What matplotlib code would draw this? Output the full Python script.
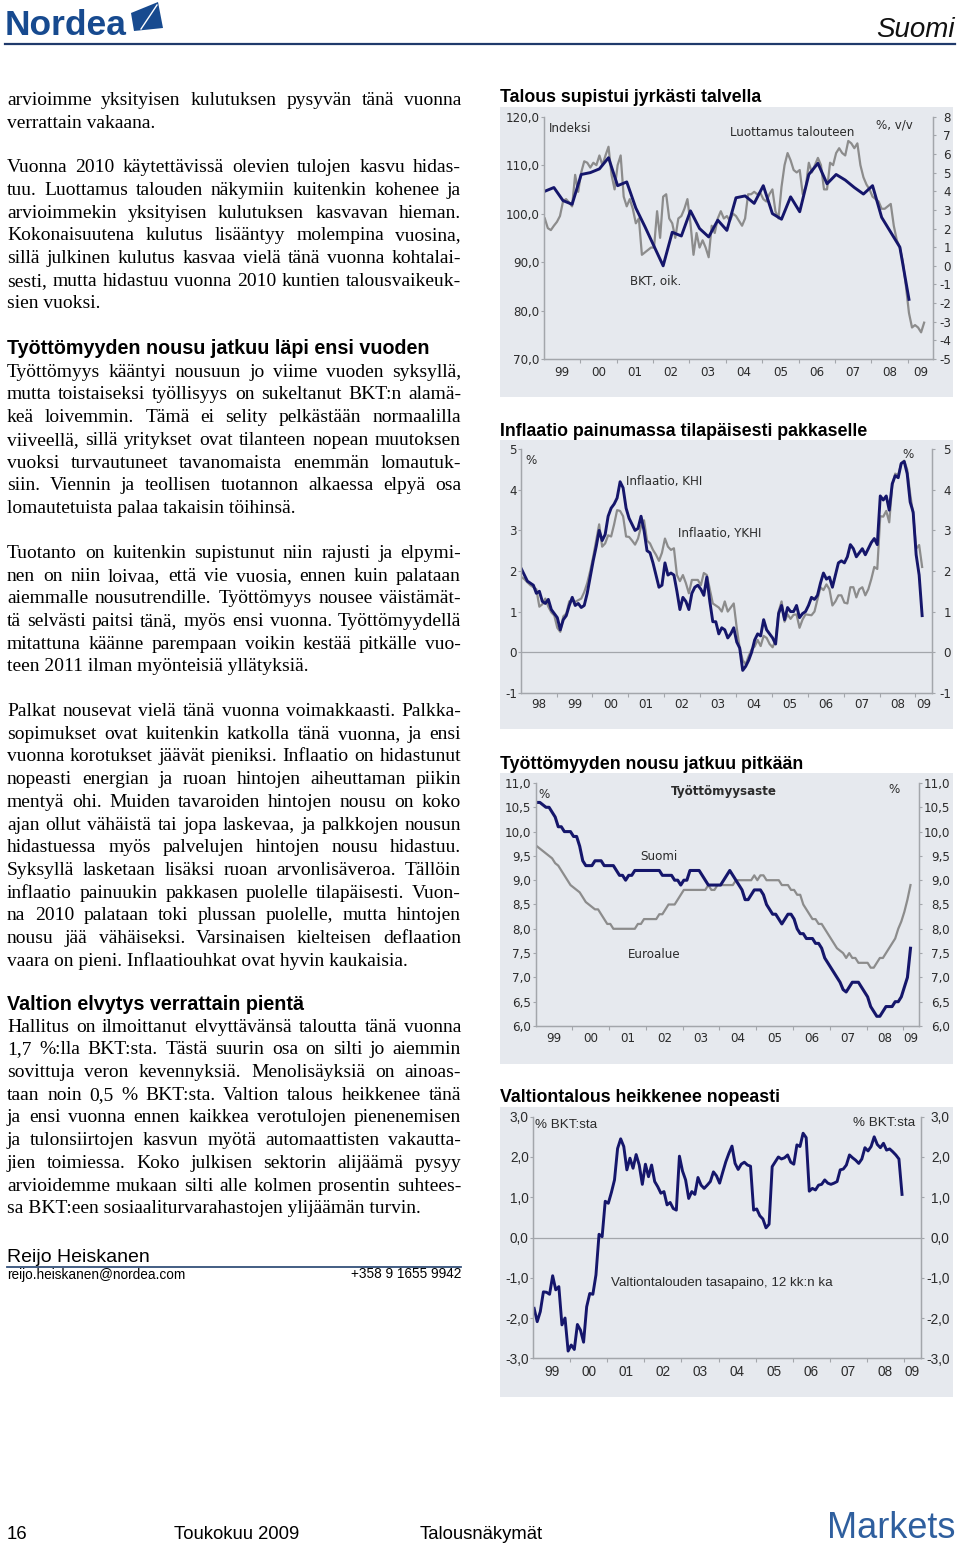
import numpy as np
import matplotlib
matplotlib.use("Agg")
import matplotlib.pyplot as plt
from matplotlib import font_manager as fm
from matplotlib.patches import Rectangle, Polygon
from matplotlib.lines import Line2D
from matplotlib.ticker import FuncFormatter, FixedLocator
from matplotlib.transforms import blended_transform_factory

# ---------------- data ----------------
# Chart 1: GDP y/y (quarterly, right axis) and economic confidence index (monthly, left axis)
bkt_q = [4.0, 4.2, 3.5, 3.3, 4.9, 5.0, 5.2, 5.8, 4.3, 4.5, 3.1, 2.1, 1.05, 0.0, 1.8, 1.6,
         2.95, 2.0, 1.55, 2.45, 1.9, 3.65, 3.75, 3.35, 4.3, 2.8, 2.5, 3.7, 2.9, 4.9, 5.5, 4.4,
         4.9, 4.6, 4.2, 3.85, 4.3, 2.6, 1.8, 1.0, -1.8]
luottamus = [99.0, 97.0, 96.6, 97.5, 98.3, 99.5, 102.5, 103.0, 102.3, 101.5, 108.0, 104.5,
             108.5, 110.8, 110.5, 109.5, 110.5, 110.0, 112.0, 110.0, 112.0, 113.8, 108.0, 105.0,
             110.0, 112.0, 103.5, 101.5, 103.0, 101.0, 98.0, 99.0, 91.5, 92.0, 92.5, 93.0,
             93.0, 100.5, 95.0, 103.5, 104.0, 99.0, 98.0, 95.0, 99.0, 99.5, 101.0, 103.0,
             98.0, 91.5, 96.0, 93.0, 94.5, 93.0, 91.0, 97.5, 96.0, 99.0, 100.5, 99.0,
             99.5, 98.5, 100.0, 99.5, 98.5, 97.5, 99.0, 104.0, 104.0, 104.5, 104.0, 104.3,
             103.0, 102.5, 104.0, 105.0, 100.5, 99.0, 105.5, 110.0, 112.5, 111.0, 109.0, 108.5,
             109.0, 104.0, 105.5, 110.5, 108.5, 110.0, 111.5, 110.0, 105.0, 105.0, 110.5, 110.0,
             112.5, 113.5, 112.5, 112.0, 115.0, 114.5, 113.5, 114.5, 110.0, 107.5, 106.0, 105.0,
             103.5, 103.0, 102.5, 101.0, 101.0, 101.5, 102.0, 97.5, 94.5, 93.0, 90.0, 85.0,
             79.5, 76.5, 77.0, 76.5, 75.5, 77.5]

# Chart 2: inflation (monthly from Jan 1998)
khi = [2.05, 1.9, 1.75, 1.7, 1.65, 1.45, 1.5, 1.25, 1.2, 1.3, 1.05, 0.95,
       0.85, 0.55, 0.8, 0.9, 1.15, 1.35, 1.15, 1.2, 1.1, 1.15, 1.45, 1.85,
       2.25, 2.6, 3.0, 2.75, 2.9, 3.35, 3.55, 3.65, 3.8, 4.2, 4.05, 3.55,
       3.3, 3.15, 3.0, 3.05, 3.35, 3.0, 2.5, 2.45, 2.2, 1.9, 1.6, 1.65,
       2.2, 1.9, 1.95, 1.9, 1.5, 1.05, 1.35, 1.25, 1.05, 1.45, 1.6, 1.65,
       1.55, 1.4, 1.85, 1.25, 0.75, 0.75, 0.45, 0.6, 0.55, 0.35, 0.45, 0.6,
       0.25, 0.1, -0.45, -0.35, -0.2, 0.0, 0.3, 0.45, 0.4, 0.8, 0.55, 0.45,
       0.35, 0.2, 0.95, 1.15, 0.8, 1.1, 1.0, 1.0, 1.15, 0.85, 0.95, 1.0,
       1.15, 1.35, 1.3, 1.4, 1.7, 1.95, 1.8, 1.85, 1.6, 1.9, 2.2, 2.25,
       2.2, 2.35, 2.65, 2.55, 2.35, 2.45, 2.55, 2.4, 2.55, 2.7, 2.8, 2.65,
       3.85, 3.75, 3.85, 3.5, 4.15, 4.35, 4.3, 4.65, 4.7, 4.4, 3.7, 3.45,
       2.4, 1.9, 0.9]
ykhi = [1.85, 1.8, 1.72, 1.65, 1.6, 1.55, 1.12, 1.18, 1.32, 1.12, 0.98, 0.9,
        0.6, 0.5, 0.88, 0.95, 1.25, 1.28, 1.24, 1.28, 1.32, 1.48, 1.7, 2.0,
        2.35, 2.75, 3.15, 2.6, 2.68, 2.88, 2.85, 3.15, 3.5, 3.48, 3.35, 2.85,
        2.84, 2.75, 2.65, 2.8, 3.1, 3.25, 2.75, 2.68, 2.52, 2.4, 2.25, 2.45,
        2.8, 2.6, 2.52, 2.56, 1.9, 1.75, 1.9, 1.7, 1.45, 1.78, 1.78, 1.78,
        1.65, 1.95, 1.9, 1.55, 1.2, 1.15, 1.1, 1.0, 1.25, 1.0, 1.1, 1.2,
        0.6, 0.1, -0.2, -0.3, -0.1, 0.07, 0.14, 0.3, 0.15, 0.4, 0.35, 0.2,
        0.12, 0.3, 1.0, 1.25, 0.75, 0.93, 0.82, 0.92, 0.93, 0.6, 0.8, 0.93,
        0.92, 0.91, 1.0, 1.3, 1.6, 1.53, 1.67, 1.55, 1.15, 1.25, 1.4, 1.4,
        1.22, 1.2, 1.6, 1.6, 1.35, 1.55, 1.6, 1.4, 1.55, 1.8, 2.1, 2.05,
        3.35, 3.34, 3.48, 3.2, 4.1, 4.4, 4.36, 4.65, 4.72, 4.5, 3.9, 3.4,
        2.55, 2.64, 2.1]

# Chart 3: unemployment rate (monthly from Jan 1999)
suomi = [10.6, 10.6, 10.55, 10.5, 10.5, 10.4, 10.3, 10.1, 10.1, 10.0, 10.0, 10.0,
         9.9, 9.9, 9.7, 9.4, 9.3, 9.3, 9.3, 9.4, 9.4, 9.4, 9.3, 9.3,
         9.3, 9.3, 9.2, 9.1, 9.1, 9.0, 9.1, 9.1, 9.2, 9.2, 9.2, 9.2,
         9.2, 9.2, 9.2, 9.2, 9.2, 9.1, 9.1, 9.1, 9.1, 9.0, 9.0, 8.9,
         9.0, 9.0, 9.2, 9.2, 9.2, 9.2, 9.1, 9.0, 8.9, 8.9, 8.9, 8.9,
         8.9, 9.0, 9.1, 9.2, 9.1, 9.0, 8.9, 8.8, 8.6, 8.6, 8.7, 8.8,
         8.8, 8.8, 8.7, 8.5, 8.4, 8.3, 8.3, 8.2, 8.1, 8.2, 8.3, 8.3,
         8.2, 8.0, 7.9, 7.9, 7.8, 7.8, 7.8, 7.7, 7.7, 7.6, 7.4, 7.3,
         7.2, 7.1, 7.0, 6.9, 6.75, 6.7, 6.8, 6.9, 6.9, 6.9, 6.8, 6.7,
         6.6, 6.4, 6.3, 6.2, 6.2, 6.3, 6.4, 6.4, 6.4, 6.5, 6.5, 6.6,
         6.8, 7.0, 7.6]
euroalue = [9.7, 9.65, 9.6, 9.55, 9.5, 9.45, 9.35, 9.3, 9.2, 9.1, 9.0, 8.9,
            8.85, 8.8, 8.75, 8.65, 8.55, 8.5, 8.45, 8.4, 8.4, 8.3, 8.2, 8.1,
            8.1, 8.0, 8.0, 8.0, 8.0, 8.0, 8.0, 8.0, 8.0, 8.1, 8.1, 8.2,
            8.2, 8.2, 8.2, 8.2, 8.3, 8.3, 8.4, 8.5, 8.5, 8.5, 8.6, 8.7,
            8.8, 8.8, 8.8, 8.8, 8.8, 8.8, 8.8, 8.8, 8.9, 8.8, 8.8, 8.9,
            8.9, 8.9, 8.9, 8.9, 8.9, 9.0, 9.0, 9.0, 9.0, 9.0, 9.0, 9.1,
            9.0, 9.1, 9.1, 9.0, 9.0, 9.0, 9.0, 9.0, 8.9, 8.9, 8.9, 8.8,
            8.8, 8.7, 8.7, 8.5, 8.4, 8.3, 8.2, 8.2, 8.1, 8.1, 8.0, 7.9,
            7.8, 7.7, 7.6, 7.55, 7.5, 7.4, 7.5, 7.4, 7.4, 7.3, 7.3, 7.3,
            7.3, 7.2, 7.2, 7.3, 7.4, 7.4, 7.5, 7.6, 7.7, 7.8, 8.0, 8.15,
            8.35, 8.6, 8.9]

# Chart 4: central government balance, % of GDP, 12m avg (monthly from Jan 1999)
valtio = [-1.76, -2.09, -1.84, -1.35, -1.36, -1.41, -0.95, -1.3, -1.22, -2.17, -2.0, -2.82,
          -2.67, -2.78, -2.16, -2.3, -2.6, -1.72, -1.39, -1.41, -0.93, 0.08, 0.02, 0.9,
          0.85, 1.12, 1.43, 2.21, 2.45, 2.26, 1.68, 1.97, 1.72, 2.06, 1.8, 1.32,
          1.82, 1.51, 1.8, 1.39, 1.26, 1.1, 1.14, 0.81, 0.87, 0.72, 0.68, 2.02,
          1.65, 1.43, 0.97, 1.14, 1.07, 1.49, 1.3, 1.22, 1.3, 1.39, 1.63, 1.53,
          1.35, 1.62, 1.88, 2.09, 2.27, 1.84, 1.69, 1.82, 1.87, 1.8, 1.77, 0.68,
          0.71, 0.54, 0.46, 0.24, 0.33, 1.76, 1.88, 2.0, 1.95, 1.98, 2.05, 1.87,
          1.82, 2.3, 2.26, 2.59, 2.48, 1.15, 1.22, 1.18, 1.3, 1.32, 1.43, 1.35,
          1.32, 1.35, 1.39, 1.68, 1.7, 1.8, 2.05, 1.98, 1.92, 1.84, 1.95, 2.23,
          2.15, 2.26, 2.5, 2.31, 2.23, 2.34, 2.17, 2.2, 2.13, 2.05, 1.95, 1.07]

year_labels_98 = ["98", "99", "00", "01", "02", "03", "04", "05", "06", "07", "08", "09"]
year_labels_99 = year_labels_98[1:]

# ---------------- figure setup ----------------
W, H = 960, 1545
fig = plt.figure(figsize=(W / 100, H / 100), dpi=100)
fig.patch.set_facecolor("white")
renderer = fig.canvas.get_renderer()


def has_font(name):
    try:
        fm.findfont(fm.FontProperties(family=name), fallback_to_default=False)
        return True
    except Exception:
        return False


SERIF = "Liberation Serif"
SANS = "Liberation Sans"
NARROW = "Liberation Sans Narrow" if has_font("Liberation Sans Narrow") else SANS
VERD = "DejaVu Sans"

NAVY = "#15166b"
GRAY = "#8c8c8c"
PANEL = "#e6e9ee"
AXC = "#a3a6ab"
TXT = "#2b2b2b"


def FX(x):
    return x / W


def FY(y):
    return 1 - y / H


def ftext(x, y, s, **kw):
    kw.setdefault("va", "baseline")
    return fig.text(FX(x), FY(y), s, **kw)


# ---------------- header ----------------
ftext(5, 35, "Nordea", fontsize=25.5, family=SANS, weight="bold", color="#174a8f")
fig.add_artist(Polygon([(FX(131), FY(13)), (FX(158), FY(2)), (FX(163), FY(28)), (FX(134), FY(31))],
                       closed=True, transform=fig.transFigure, facecolor="#174a8f", edgecolor="none"))
fig.add_artist(Line2D([FX(141), FX(157)], [FY(29), FY(5)], transform=fig.transFigure,
                      color="white", lw=1.0))
ftext(955, 37, "Suomi", fontsize=20, family=SANS, style="italic", color="#111111", ha="right")
fig.add_artist(Line2D([FX(5), FX(955)], [FY(43.5), FY(43.5)], transform=fig.transFigure,
                      color="#1f3a6b", lw=1.6))

# ---------------- left column text ----------------
BODY_FS = 14.0
X0, X1 = 7, 461


def body_line(s, y, justify=True):
    if not justify:
        ftext(X0, y, s, fontsize=BODY_FS, family=SERIF, color="black")
        return
    words = s.split()
    ts = [ftext(0, y, w, fontsize=BODY_FS, family=SERIF, color="black") for w in words]
    widths = [t.get_window_extent(renderer).width for t in ts]
    gap = (X1 - X0 - sum(widths)) / max(len(words) - 1, 1)
    x = X0
    for t, w in zip(ts, widths):
        t.set_x(FX(x))
        x += w + gap


def paragraph(lines, y0, step=22.7):
    for i, s in enumerate(lines):
        body_line(s, y0 + i * step, justify=(i < len(lines) - 1))


def heading(s, y):
    ftext(X0, y, s, fontsize=14.2, family=SANS, weight="bold", color="black")


paragraph(["arvioimme yksityisen kulutuksen pysyvän tänä vuonna",
           "verrattain vakaana."], 105)
paragraph(["Vuonna 2010 käytettävissä olevien tulojen kasvu hidas-",
           "tuu. Luottamus talouden näkymiin kuitenkin kohenee ja",
           "arvioimmekin yksityisen kulutuksen kasvavan hieman.",
           "Kokonaisuutena kulutus lisääntyy molempina vuosina,",
           "sillä julkinen kulutus kasvaa vielä tänä vuonna kohtalai-",
           "sesti, mutta hidastuu vuonna 2010 kuntien talousvaikeuk-",
           "sien vuoksi."], 172.3)
heading("Työttömyyden nousu jatkuu läpi ensi vuoden", 354)
paragraph(["Työttömyys kääntyi nousuun jo viime vuoden syksyllä,",
           "mutta toistaiseksi työllisyys on sukeltanut BKT:n alamä-",
           "keä loivemmin. Tämä ei selity pelkästään normaalilla",
           "viiveellä, sillä yritykset ovat tilanteen nopean muutoksen",
           "vuoksi turvautuneet tavanomaista enemmän lomautuk-",
           "siin. Viennin ja teollisen tuotannon alkaessa elpyä osa",
           "lomautetuista palaa takaisin töihinsä."], 376.7)
paragraph(["Tuotanto on kuitenkin supistunut niin rajusti ja elpymi-",
           "nen on niin loivaa, että vie vuosia, ennen kuin palataan",
           "aiemmalle nousutrendille. Työttömyys nousee väistämät-",
           "tä selvästi paitsi tänä, myös ensi vuonna. Työttömyydellä",
           "mitattuna käänne parempaan voikin kestää pitkälle vuo-",
           "teen 2011 ilman myönteisiä yllätyksiä."], 557.9)
paragraph(["Palkat nousevat vielä tänä vuonna voimakkaasti. Palkka-",
           "sopimukset ovat kuitenkin katkolla tänä vuonna, ja ensi",
           "vuonna korotukset jäävät pieniksi. Inflaatio on hidastunut",
           "nopeasti energian ja ruoan hintojen aiheuttaman piikin",
           "mentyä ohi. Muiden tavaroiden hintojen nousu on koko",
           "ajan ollut vähäistä tai jopa laskevaa, ja palkkojen nousun",
           "hidastuessa myös palvelujen hintojen nousu hidastuu.",
           "Syksyllä lasketaan lisäksi ruoan arvonlisäveroa. Tällöin",
           "inflaatio painuukin pakkasen puolelle tilapäisesti. Vuon-",
           "na 2010 palataan toki plussan puolelle, mutta hintojen",
           "nousu jää vähäiseksi. Varsinaisen kielteisen deflaation",
           "vaara on pieni. Inflaatiouhkat ovat hyvin kaukaisia."], 716)
heading("Valtion elvytys verrattain pientä", 1010)
paragraph(["Hallitus on ilmoittanut elvyttävänsä taloutta tänä vuonna",
           "1,7 %:lla BKT:sta. Tästä suurin osa on silti jo aiemmin",
           "sovittuja veron kevennyksiä. Menolisäyksiä on ainoas-",
           "taan noin 0,5 % BKT:sta. Valtion talous heikkenee tänä",
           "ja ensi vuonna ennen kaikkea verotulojen pienenemisen",
           "ja tulonsiirtojen kasvun myötä automaattisten vakautta-",
           "jien toimiessa. Koko julkisen sektorin alijäämä pysyy",
           "arvioidemme mukaan silti alle kolmen prosentin suhtees-",
           "sa BKT:een sosiaaliturvarahastojen ylijäämän turvin."], 1031.7)

ftext(7, 1261.5, "Reijo Heiskanen", fontsize=14.0, family=SANS, color="black")
fig.add_artist(Line2D([FX(7), FX(461)], [FY(1266.8), FY(1266.8)], transform=fig.transFigure,
                      color="#34507a", lw=1.3))
ftext(7, 1278.5, "reijo.heiskanen@nordea.com", fontsize=9.8, family=SANS, color="black")
ftext(461, 1278.5, "+358 9 1655 9942", fontsize=9.8, family=SANS, color="black", ha="right")

# ---------------- footer ----------------
ftext(7, 1539, "16", fontsize=13.3, family=NARROW, color="black")
ftext(174, 1539, "Toukokuu 2009", fontsize=13.3, family=NARROW, color="black")
ftext(420, 1539, "Talousnäkymät", fontsize=13.3, family=NARROW, color="black")
ftext(955, 1538, "Markets", fontsize=26, family=SANS, color="#2f5f9e", ha="right")


# ---------------- chart helpers ----------------
def panel(top, bottom, title, title_y):
    fig.add_artist(Rectangle((FX(500), FY(bottom)), FX(953) - FX(500), FY(top) - FY(bottom),
                             transform=fig.transFigure, facecolor=PANEL, edgecolor="none", zorder=0))
    ftext(500, title_y, title, fontsize=12.8, family=SANS, weight="bold", color="black")


def style_spines(ax):
    ax.patch.set_alpha(0)
    for s in ("left", "right", "bottom"):
        ax.spines[s].set_color(AXC)
        ax.spines[s].set_linewidth(0.9)
    ax.spines["top"].set_visible(False)


def mk_axes(l, r, t, b):
    ax = fig.add_axes([FX(l), FY(b), FX(r) - FX(l), FY(t) - FY(b)])
    style_spines(ax)
    return ax


def comma_fmt(dec):
    def f(v, pos):
        return f"{v:.{dec}f}".replace(".", ",")
    return FuncFormatter(f)


TICKLEN = 2.5  # points


def setup_y(ax, axr, ticks_l, ticks_r, dec_l, dec_r, axis_l, lab_l, axis_r, lab_r, fs, family):
    """lab_l / lab_r: pixel x of right edge of left and right tick labels"""
    ax.set_yticks(ticks_l)
    ax.yaxis.set_major_formatter(comma_fmt(dec_l))
    pad_l = (axis_l - lab_l) * 0.72 - TICKLEN
    ax.tick_params(axis="y", which="major", direction="out", length=TICKLEN, width=0.8,
                   color=AXC, labelsize=fs, labelcolor=TXT, pad=pad_l)
    for lab in ax.get_yticklabels():
        lab.set_family(family)
    axr.set_yticks(ticks_r)
    axr.yaxis.set_major_formatter(comma_fmt(dec_r))
    pad_r = (lab_r - axis_r) * 0.72 - TICKLEN
    axr.tick_params(axis="y", which="major", direction="out", length=TICKLEN, width=0.8,
                    color=AXC, labelsize=fs, labelcolor=TXT, pad=pad_r)
    for lab in axr.get_yticklabels():
        lab.set_family(family)
        lab.set_horizontalalignment("right")


def setup_x(ax, first_year, xmax, labels, label_y, fs, family):
    ax.set_xlim(first_year, xmax)
    years = list(range(first_year + 1, int(np.floor(xmax)) + 1))
    ax.xaxis.set_major_locator(FixedLocator(years))
    ax.tick_params(axis="x", which="major", direction="out", length=3, width=0.8,
                   color=AXC, labelbottom=False)
    tr = blended_transform_factory(ax.transData, fig.transFigure)
    nfull = len(labels) - 1
    for i, lab in enumerate(labels):
        if i < nfull:
            xc = first_year + i + 0.5
        else:
            xc = (first_year + nfull + xmax) / 2
        ax.text(xc, FY(label_y), lab, transform=tr, ha="center", va="center",
                fontsize=fs, family=family, color=TXT)


def ctext(x, y, s, **kw):
    kw.setdefault("va", "center")
    kw.setdefault("fontsize", 8.6)
    kw.setdefault("family", VERD)
    kw.setdefault("color", TXT)
    return fig.text(FX(x), FY(y), s, **kw)


# ---------------- Chart 1 ----------------
panel(107, 397, "Talous supistui jyrkästi talvella", 102.5)
ax1 = mk_axes(543.7, 933, 116.7, 359)
ax1.set_ylim(70, 120)
x_conf = 1999.03 + np.arange(len(luottamus)) / 12
ax1.plot(x_conf, luottamus, color=GRAY, lw=1.6, solid_joinstyle="round")
ax1r = ax1.twinx()
style_spines(ax1r)
ax1r.set_ylim(-5, 8)
x_bkt = 1999.03 + np.arange(len(bkt_q)) * 0.25
ax1r.plot(x_bkt, bkt_q, color=NAVY, lw=2.1, solid_joinstyle="round")
setup_x(ax1, 1999, 2009.69, year_labels_99, 372.5, 8.6, VERD)
setup_y(ax1, ax1r, range(70, 121, 10), range(-5, 9), 1, 0, 543.7, 539.7, 933, 951, 8.6, VERD)
ctext(549, 128, "Indeksi")
ctext(730, 132, "Luottamus talouteen")
ctext(876, 125, "%, v/v")
ctext(630, 281, "BKT, oik.")

# ---------------- Chart 2 ----------------
panel(440, 729, "Inflaatio painumassa tilapäisesti pakkaselle", 436)
ax2 = mk_axes(520.7, 932.3, 449.3, 692.7)
ax2.set_ylim(-1, 5)
ax2.axhline(0, color=AXC, lw=0.9)
x_inf = 1998.02 + np.arange(len(khi)) / 12
ax2.plot(x_inf, ykhi, color=GRAY, lw=1.6, solid_joinstyle="round")
ax2.plot(x_inf, khi, color=NAVY, lw=2.1, solid_joinstyle="round")
setup_x(ax2, 1998, 2009.47, year_labels_98, 705, 8.6, VERD)
ax2r = ax2.twinx()
style_spines(ax2r)
ax2r.set_ylim(-1, 5)
setup_y(ax2, ax2r, range(-1, 6), range(-1, 6), 0, 0, 520.7, 517, 932.3, 951, 8.6, VERD)
ctext(525, 461, "%")
ctext(902, 455, "%")
ctext(626, 482, "Inflaatio, KHI")
ctext(678, 533, "Inflaatio, YKHI")

# ---------------- Chart 3 ----------------
panel(773, 1064, "Työttömyyden nousu jatkuu pitkään", 768.7)
ax3 = mk_axes(535.7, 918.7, 783, 1026)
ax3.set_ylim(6, 11)
x_u = 1999.03 + np.arange(len(suomi)) / 12
ax3.plot(x_u, euroalue, color=GRAY, lw=1.6, solid_joinstyle="round")
ax3.plot(x_u, suomi, color=NAVY, lw=2.2, solid_joinstyle="round")
setup_x(ax3, 1999, 2009.42, year_labels_99, 1038, 8.6, VERD)
ax3r = ax3.twinx()
style_spines(ax3r)
ax3r.set_ylim(6, 11)
ticks3 = np.arange(6.0, 11.01, 0.5)
setup_y(ax3, ax3r, ticks3, ticks3, 1, 1, 535.7, 531, 918.7, 949.7, 8.6, VERD)
ctext(538, 794, "%")
ctext(724, 791, "Työttömyysaste", ha="center", weight="bold")
ctext(888, 789, "%")
ctext(640, 856, "Suomi")
ctext(628, 954, "Euroalue")

# ---------------- Chart 4 ----------------
panel(1107, 1397, "Valtiontalous heikkenee nopeasti", 1101.7)
ax4 = mk_axes(533, 920.7, 1116.7, 1358.3)
ax4.set_ylim(-3, 3)
ax4.axhline(0, color=AXC, lw=0.9)
x_v = 1999.03 + np.arange(len(valtio)) / 12
ax4.plot(x_v, valtio, color=NAVY, lw=2.1, solid_joinstyle="round")
setup_x(ax4, 1999, 2009.45, year_labels_99, 1372, 9.8, SANS)
ax4r = ax4.twinx()
style_spines(ax4r)
ax4r.set_ylim(-3, 3)
setup_y(ax4, ax4r, range(-3, 4), range(-3, 4), 1, 1, 533, 528.7, 920.7, 949.7, 9.8, SANS)
ctext(535, 1125, "% BKT:sta", family=SANS, fontsize=9.6)
ctext(915, 1123, "% BKT:sta", family=SANS, fontsize=9.6, ha="right")
ctext(611, 1283, "Valtiontalouden tasapaino, 12 kk:n ka", family=SANS, fontsize=9.6)

fig.savefig("out.png", dpi=100, facecolor="white")
